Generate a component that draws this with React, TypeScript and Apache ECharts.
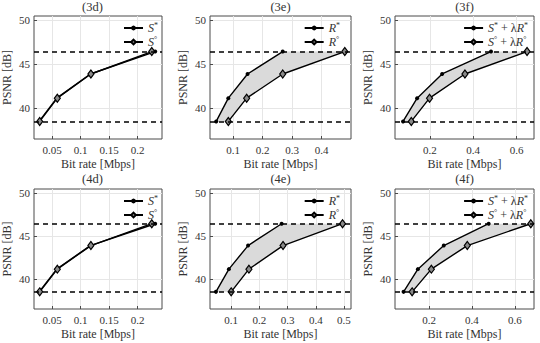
import { useEffect, useRef } from 'react';
import * as echarts from 'echarts';

// PSNR operating points shared by every rate curve [dB]
const psnrPoints = [38.5, 41.15, 43.9, 46.45];
// quality bounds drawn as dashed reference lines [dB]
const psnrUpper = 46.45;
const psnrLower = 38.5;
const psnrTicks = [40, 45, 50];
const psnrRange = [36.5, 50.5];

const panelTitles = ['(3d)', '(3e)', '(3f)', '(4d)', '(4e)', '(4f)'];
const starLabels = ['S*', 'R*', 'S* + λR*', 'S*', 'R*', 'S* + λR*'];
const circLabels = ['S°', 'R°', 'S° + λR°', 'S°', 'R°', 'S° + λR°'];

// bit rates [Mbps] for the * (upper) and ° (lower) curves of each panel
const rate3dStar = [0.027, 0.058, 0.117, 0.231];
const rate3dCirc = [0.028, 0.059, 0.118, 0.225];
const rate3eStar = [0.043, 0.084, 0.149, 0.268];
const rate3eCirc = [0.084, 0.146, 0.268, 0.478];
const rate3fStar = [0.077, 0.142, 0.257, 0.482];
const rate3fCirc = [0.115, 0.199, 0.362, 0.648];
const rate4dStar = [0.027, 0.058, 0.117, 0.231];
const rate4dCirc = [0.028, 0.059, 0.118, 0.225];
const rate4eStar = [0.046, 0.092, 0.16, 0.279];
const rate4eCirc = [0.1, 0.163, 0.284, 0.495];
const rate4fStar = [0.08, 0.147, 0.268, 0.478];
const rate4fCirc = [0.12, 0.21, 0.378, 0.675];

// bit-rate axis ticks and extents
const rateTicksD = [0.05, 0.1, 0.15, 0.2];
const rateTicks3e = [0.1, 0.2, 0.3, 0.4];
const rateTicks4e = [0.1, 0.2, 0.3, 0.4, 0.5];
const rateTicksF = [0.2, 0.4, 0.6];
const rateRange3d = [0.018, 0.243];
const rateRange3e = [0.022, 0.499];
const rateRange3f = [0.04, 0.68];
const rateRange4d = [0.018, 0.243];
const rateRange4e = [0.025, 0.525];
const rateRange4f = [0.04, 0.69];

const starRates = [rate3dStar, rate3eStar, rate3fStar, rate4dStar, rate4eStar, rate4fStar];
const circRates = [rate3dCirc, rate3eCirc, rate3fCirc, rate4dCirc, rate4eCirc, rate4fCirc];
const rateTicks = [rateTicksD, rateTicks3e, rateTicksF, rateTicksD, rateTicks4e, rateTicksF];
const rateRanges = [rateRange3d, rateRange3e, rateRange3f, rateRange4d, rateRange4e, rateRange4f];

// layout of the 2 x 3 panel grid (pixels)
const colLeft = [23, 210, 395];
const colWidth = [139, 141, 139];
const rowTop = [16, 189];
const rowHeight = [123, 120];
const legendRightGap = [4, 11, 6];

const FONT = "'Liberation Serif', 'Times New Roman', serif";
const INK = '#333333';
const FRAME = '#4a4a4a';

const richName = (name: string) => name.replace(/([SR])([*°])/g, '{it|$1}{sup|$2}');

function buildOption() {
  const grid: any[] = [];
  const xAxis: any[] = [];
  const yAxis: any[] = [];
  const series: any[] = [];
  const legend: any[] = [];
  const graphic: any[] = [];

  for (let p = 0; p < 6; p++) {
    const col = p % 3;
    const row = Math.floor(p / 3);
    const left = colLeft[col];
    const top = rowTop[row];
    const width = colWidth[col];
    const height = rowHeight[row];

    grid.push({
      left, top, width, height,
      show: true,
      borderColor: FRAME,
      borderWidth: 1,
      backgroundColor: '#ffffff',
    });

    xAxis.push({
      type: 'value',
      gridIndex: p,
      min: rateRanges[p][0],
      max: rateRanges[p][1],
      name: 'Bit rate [Mbps]',
      nameLocation: 'middle',
      nameGap: 19,
      nameTextStyle: { fontFamily: FONT, fontSize: 12, color: INK },
      axisLine: { show: false },
      axisTick: { show: true, inside: true, length: 3, lineStyle: { color: FRAME }, customValues: rateTicks[p] },
      axisLabel: {
        fontFamily: FONT, fontSize: 11, color: INK, margin: 5,
        customValues: rateTicks[p],
        formatter: (v: number) => String(Number(v.toFixed(3))),
      },
      splitLine: { show: true, lineStyle: { color: '#e6e6e6', width: 1 } },
    });

    yAxis.push({
      type: 'value',
      gridIndex: p,
      min: psnrRange[0],
      max: psnrRange[1],
      name: 'PSNR [dB]',
      nameLocation: 'middle',
      nameGap: 21,
      nameTextStyle: { fontFamily: FONT, fontSize: 12, color: INK },
      axisLine: { show: false },
      axisTick: { show: true, inside: true, length: 3, lineStyle: { color: FRAME }, customValues: psnrTicks },
      axisLabel: { fontFamily: FONT, fontSize: 11, color: INK, margin: 4, customValues: psnrTicks },
      splitLine: { show: true, lineStyle: { color: '#e6e6e6', width: 1 } },
    });

    const star = starRates[p];
    const circ = circRates[p];

    // shaded region enclosed by the two curves
    series.push({
      type: 'custom',
      xAxisIndex: p,
      yAxisIndex: p,
      silent: true,
      z: 1,
      data: [[star[0], psnrPoints[0]]],
      renderItem: (_params: any, api: any) => {
        const upper = star.map((x, i) => api.coord([x, psnrPoints[i]]));
        const lower = circ.map((x, i) => api.coord([x, psnrPoints[i]])).reverse();
        return {
          type: 'polygon',
          shape: { points: upper.concat(lower) },
          style: { fill: '#dadada', stroke: 'none' },
        };
      },
    });

    series.push({
      type: 'line',
      name: starLabels[p],
      xAxisIndex: p,
      yAxisIndex: p,
      z: 3,
      data: star.map((x, i) => [x, psnrPoints[i]]),
      symbol: 'circle',
      symbolSize: 4,
      showSymbol: true,
      lineStyle: { color: '#000', width: 1.4 },
      itemStyle: { color: '#000' },
      markLine: {
        silent: true,
        symbol: 'none',
        label: { show: false },
        lineStyle: { color: '#000', type: [5, 4], width: 1.5 },
        data: [{ yAxis: psnrUpper }, { yAxis: psnrLower }],
      },
    });

    series.push({
      type: 'line',
      name: circLabels[p],
      xAxisIndex: p,
      yAxisIndex: p,
      z: 4,
      data: circ.map((x, i) => [x, psnrPoints[i]]),
      symbol: 'diamond',
      symbolSize: [6, 8],
      showSymbol: true,
      lineStyle: { color: '#000', width: 1.4 },
      itemStyle: { color: '#8a8a8a', borderColor: '#000', borderWidth: 1.2 },
    });

    legend.push({
      orient: 'vertical',
      right: 540 - (left + width) + legendRightGap[col],
      top: top + 5,
      align: 'left',
      padding: 0,
      itemGap: 0,
      itemWidth: 19,
      itemHeight: 6,
      selectedMode: false,
      data: [starLabels[p], circLabels[p]],
      formatter: richName,
      textStyle: {
        fontFamily: FONT,
        fontSize: 12,
        color: INK,
        lineHeight: 14,
        rich: {
          it: { fontFamily: FONT, fontSize: 12, fontStyle: 'italic', color: INK, lineHeight: 14 },
          sup: { fontFamily: FONT, fontSize: 8, color: INK, verticalAlign: 'top', lineHeight: 9 },
        },
      },
    });

    graphic.push({
      type: 'text',
      x: left + width / 2,
      y: row === 0 ? 7 : 179,
      style: {
        text: panelTitles[p],
        font: `12.5px ${FONT}`,
        fill: INK,
        textAlign: 'center',
        textVerticalAlign: 'middle',
      },
    });
  }

  return { animation: false, backgroundColor: '#ffffff', grid, xAxis, yAxis, series, legend, graphic };
}

export default function App() {
  const ref = useRef<HTMLDivElement>(null);

  useEffect(() => {
    if (!ref.current) return;
    const chart = echarts.init(ref.current, undefined, { renderer: 'svg' });
    chart.setOption(buildOption() as any);
    return () => chart.dispose();
  }, []);

  return <div ref={ref} style={{ position: 'fixed', left: 0, top: 0, width: 540, height: 343 }} />;
}
